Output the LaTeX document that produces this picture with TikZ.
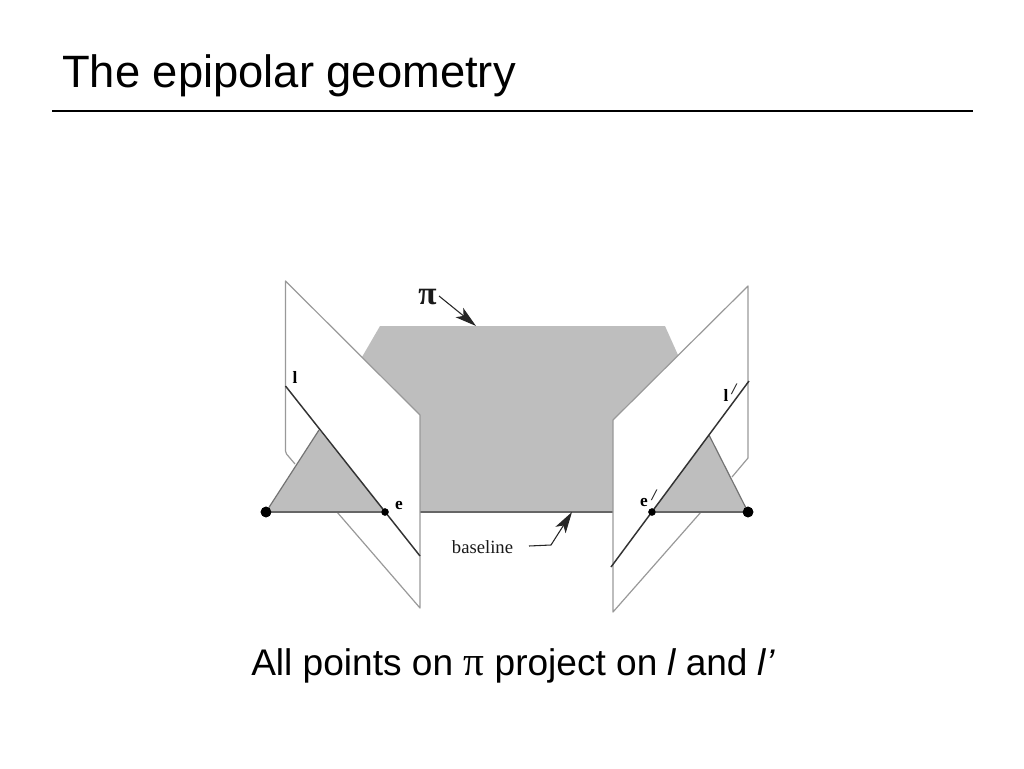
\documentclass[tikz,border=0pt]{standalone}
\usepackage{fontspec}
\setmainfont{Liberation Sans}
\newfontfamily\serifpart{Liberation Serif}
\usetikzlibrary{arrows.meta}
\definecolor{planegray}{gray}{0.745}
\definecolor{edgegray}{gray}{0.6}
\definecolor{basegray}{gray}{0.4}
\tikzset{
  x=0.75pt,y=-0.75pt,
  edge/.style={draw=edgegray,line width=0.9pt,line join=round},
  epiline/.style={draw=black!80,line width=1.1pt},
  baseline/.style={draw=basegray,line width=1.4pt},
  dotbig/.style={circle,fill=black,inner sep=0pt,minimum size=8pt},
  dotsmall/.style={circle,fill=black,inner sep=0pt,minimum size=5.5pt},
  figlabel/.style={font=\serifpart\bfseries\fontsize{13pt}{14pt}\selectfont,inner sep=0pt,text=black},
  primelabel/.style={font=\serifpart\bfseries\itshape\fontsize{12pt}{14pt}\selectfont,inner sep=0pt,text=black!90},
  pointer/.style={draw=black!85,line width=0.8pt,-{Stealth[length=16pt,width=9pt,inset=4pt]}},
}
\begin{document}
\begin{tikzpicture}
\useasboundingbox (0,0) rectangle (1024,768);
\node[anchor=base west,inner sep=0pt,font=\fontsize{34pt}{38pt}\selectfont] (title) at (62,87) {The epipolar geometry};
\coordinate (ruleL) at (52,111); \coordinate (ruleR) at (973,111);
\draw[line width=1.6pt] (ruleL) -- (ruleR);

% central plane pi
\fill[planegray] (362,357) -- (380,326) -- (665,326) -- (678,355) -- (613,420) -- (613,512) -- (420,512) -- (420,415) -- cycle;
\coordinate (baseL) at (420,512); \coordinate (baseR) at (613,512);
\draw[baseline] (baseL) -- (baseR);

% left image plane
\draw[edge] (295,464) -- (286.5,454) -- (285.5,451) -- (285.5,281) -- (420,415) -- (420,608) -- (337,512);
% right image plane
\draw[edge] (732,477) -- (748,458) -- (748,286) -- (613,420) -- (613,612) -- (701,512);

% triangles
\coordinate (ltop) at (319,430); \coordinate (rtop) at (709,435);
\node[dotbig] (cl) at (266,512) {};
\node[dotsmall] (el) at (385,512) {};
\node[dotbig] (cr) at (748,512) {};
\node[dotsmall] (er) at (652,512) {};
\fill[planegray] (cl.center) -- (ltop) -- (el.center) -- cycle;
\fill[planegray] (cr.center) -- (rtop) -- (er.center) -- cycle;
\draw[edge,draw=edgegray!75!black] (cl.center) -- (ltop);
\draw[edge,draw=edgegray!75!black] (cr.center) -- (rtop);
\draw[baseline] (cl.center) -- (el.center);
\draw[baseline] (er.center) -- (cr.center);
\node[dotbig] at (cl) {};
\node[dotbig] at (cr) {};

% epipolar lines
\coordinate (lA) at (285.5,386); \coordinate (lB) at (420,556);
\coordinate (rA) at (611,567); \coordinate (rB) at (749,381);
\draw[epiline] (lA) -- (lB);
\draw[epiline] (rA) -- (rB);
\node[dotsmall] at (el) {};
\node[dotsmall] at (er) {};

% labels
\node[figlabel] (ll) at (295,377) {l};
\node[figlabel] (le) at (399,505) {e};
\node[figlabel] (lr) at (726,395) {l};
\node[primelabel] (lrp) at (734,389) {/};
\node[figlabel] (ler) at (644,502) {e};
\node[primelabel] (lerp) at (654,495) {/};
\node[inner sep=0pt,font=\serifpart\fontsize{14pt}{16pt}\selectfont,text=black!90] (bl) at (482.5,547) {baseline};
\node[inner sep=0pt,font=\serifpart\bfseries\fontsize{25pt}{28pt}\selectfont,text=black!90] (pi) at (427.5,297) {π};
\coordinate (piStart) at (439,296);
\coordinate (piTip) at (476,326);
\draw[pointer] (piStart) -- (piTip);
\coordinate (blTip) at (572,512); \coordinate (blKnee) at (551,545); \coordinate (blStart) at (529,546);
\draw[pointer] (blStart) -- (blKnee) -- (blTip);

% caption
\node[anchor=base west,inner sep=0pt,font=\fontsize{27.8pt}{32pt}\selectfont] (cap) at (251,675.5) {All points on {\serifpart\fontsize{31pt}{32pt}\selectfont π} project on \textit{l}\kern-1pt{} and \textit{l’}};
\end{tikzpicture}
\end{document}
